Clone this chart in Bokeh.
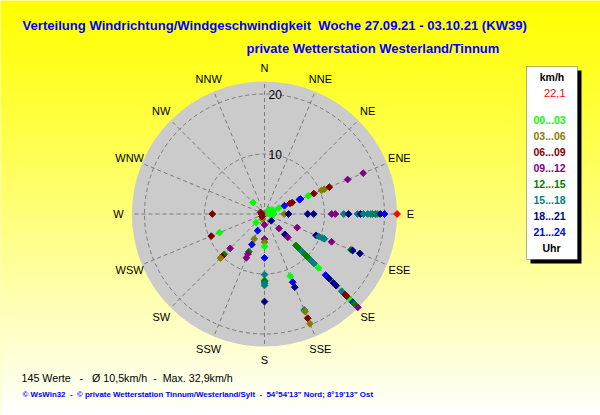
import numpy as np
from bokeh.plotting import figure
from bokeh.models import Range1d, Label, BoxAnnotation, ColumnDataSource
from bokeh.embed import file_html
from bokeh.resources import INLINE

# ---------------- data ----------------
directions16 = ["N", "NNE", "NE", "ENE", "E", "ESE", "SE", "SSE",
                "S", "SSW", "SW", "WSW", "W", "WNW", "NW", "NNW"]
hour_bins = ["00...03", "03...06", "06...09", "09...12",
             "12...15", "15...18", "18...21", "21...24"]
bin_colors = ["#00FF00", "#808000", "#800000", "#800080",
              "#008000", "#008080", "#000080", "#0000FF"]
scale_max = 22.1          # km/h, outer circle
scale_max_label = "22,1"
max_dir = "E"
ring_values = [10, 20]

obs_dir = (
    ["E"] * 21 + ["ENE"] * 15 + ["NE"] + ["ESE"] * 9 + ["SE"] * 23 + ["SSE"] * 7
    + ["S"] * 11 + ["SSW"] * 7 + ["SW"] * 6 + ["WSW"] * 2 + ["W"] * 2 + ["WNW"] + ["NW"]
)
obs_speed = [
    # E
    0.8, 1.2, 1.5, 3.3, 4.0, 7.2, 8.2, 11.2, 11.8, 13.2, 14.0, 15.5, 16.0, 16.5, 17.2,
    17.7, 18.0, 18.5, 18.8, 19.3, 20.0,
    # ENE
    1.2, 1.6, 2.6, 3.6, 4.6, 5.0, 6.3, 6.5, 7.9, 8.9, 10.3, 10.8, 11.7, 15.0, 17.8,
    # NE
    1.0,
    # ESE
    5.9, 9.3, 9.8, 10.4, 10.8, 12.1, 15.6, 15.9, 17.2,
    # SE
    1.6, 3.4, 4.8, 5.5, 7.4, 7.9, 8.8, 9.6, 10.2, 10.9, 11.7, 12.7, 14.4, 15.2, 16.2,
    16.9, 18.2, 19.0, 19.4, 20.3, 20.8, 21.1, 22.0,
    # SSE
    11.2, 12.3, 13.2, 17.3, 17.6, 18.8, 19.8,
    # S
    1.8, 4.2, 4.7, 5.4, 7.3, 10.1, 11.1, 11.3, 11.6, 11.9, 14.6,
    # SSW
    0.9, 3.0, 4.5, 5.5, 6.8, 7.2, 7.9,
    # SW
    0.6, 2.0, 8.1, 9.5, 10.0, 10.4,
    # WSW
    8.1, 9.6,
    # W
    0.5, 8.7,
    # WNW
    0.7,
    # NW
    2.7,
]
obs_bin = [
    # E
    0, 0, 0, 1, 6, 6, 6, 3, 3, 5, 6, 5, 6, 5, 5, 5, 5, 4, 5, 6, 7,
    # ENE
    0, 0, 0, 7, 2, 2, 7, 7, 0, 2, 1, 1, 2, 3, 3,
    # NE
    0,
    # ESE
    3, 6, 5, 5, 5, 3, 4, 6, 6,
    # SE
    6, 3, 6, 3, 4, 4, 5, 4, 4, 5, 5, 0, 7, 6, 6, 6, 5, 2, 2, 0, 7, 4, 3,
    # SSE
    0, 7, 6, 5, 1, 2, 1,
    # S
    3, 3, 1, 0, 7, 5, 4, 4, 5, 5, 6,
    # SSW
    1, 7, 1, 7, 4, 3, 3,
    # SW
    2, 0, 3, 4, 2, 1,
    # WSW
    0, 2,
    # W
    2, 2,
    # WNW
    2,
    # NW
    0,
]

NB = "\u00a0"
texts_title = "Verteilung Windrichtung/Windgeschwindigkeit" + NB + " Woche 27.09.21 - 03.10.21 (KW39)"
texts_sub = "private Wetterstation Westerland/Tinnum"
texts_stats = "145 Werte" + NB * 2 + " -" + NB * 2 + " Ø 10,5km/h" + NB + " -" + NB + " Max. 32,9km/h"
texts_copy = ("© WsWin32" + NB + " -" + NB + " © private Wetterstation Tinnum/Westerland/Sylt"
              + NB + " -" + NB + " 54°54'13\" Nord; 8°19'13\" Ost")

# ---------------- layout helpers (page pixels -> data units) ----------------
W, H = 600, 415
OFF = 0                        # figure sits at the page origin
PX = 6.0                       # pixels per km/h
CX, CY = 264.0, 213.5          # centre of the rose in page pixels


def fx(X):
    return (X - OFF - CX) / PX


def fy(Y):
    return (CY - (Y - OFF)) / PX


FONT = "Liberation Sans"

p = figure(width=W, height=H, x_range=Range1d(fx(OFF), fx(OFF + W)),
           y_range=Range1d(fy(OFF + H), fy(OFF)), output_backend="svg",
           toolbar_location=None, x_axis_location=None, y_axis_location=None,
           min_border=0)
p.grid.visible = False
p.outline_line_color = None
p.border_fill_color = "#FFFF80"
p.background_fill_color = "#FFFF80"

# background gradient (yellow -> pale cream)
rows = H
img = np.zeros((rows, 1, 4), dtype=np.uint8)
for i in range(rows):
    Yref = OFF + (rows - 1 - i) + 0.5
    t = min(max(Yref / 415.0, 0.0), 1.0)
    img[i, 0, 0] = 255
    img[i, 0, 1] = 255
    img[i, 0, 2] = int(round(255 * t ** 1.1))
    img[i, 0, 3] = 255
img32 = img.view(dtype=np.uint32).reshape((rows, 1))
p.image_rgba(image=[img32], x=fx(OFF), y=fy(OFF + H), dw=W / PX, dh=H / PX)

# polar disk
p.circle(x=[0], y=[0], radius=scale_max, fill_color="#CBCBCB", line_color=None)

# rings and spokes
p.circle(x=[0] * len(ring_values), y=[0] * len(ring_values), radius=ring_values,
         fill_color=None, line_color="#7A7A7A", line_dash="4 3", line_width=1)
ang = np.deg2rad(np.arange(16) * 22.5)
p.segment(x0=np.zeros(16), y0=np.zeros(16), x1=scale_max * np.sin(ang),
          y1=scale_max * np.cos(ang), line_color="#7A7A7A", line_dash="4 3", line_width=1)

# data points
dir_deg = {d: i * 22.5 for i, d in enumerate(directions16)}
th = np.deg2rad([dir_deg[d] for d in obs_dir])
sp = np.array(obs_speed)
src = ColumnDataSource(dict(x=sp * np.sin(th), y=sp * np.cos(th),
                            c=[bin_colors[b] for b in obs_bin]))
p.scatter(x="x", y="y", source=src, marker="square", angle=np.pi / 4, size=4.8,
          fill_color="c", line_color="c", line_width=1)
mth = np.deg2rad(dir_deg[max_dir])
p.scatter(x=[scale_max * np.sin(mth)], y=[scale_max * np.cos(mth)], marker="square",
          angle=np.pi / 4, size=4.8, fill_color="#FF0000", line_color="#FF0000")

# ring labels
for rv in ring_values:
    p.add_layout(Label(x=4 / PX, y=rv, text=str(rv), text_font=FONT,
                       text_font_size="12px", text_color="black",
                       text_baseline="middle", text_align="left"))

# direction labels
RL = 146 / PX
for i, d in enumerate(directions16):
    a = np.deg2rad(i * 22.5)
    p.add_layout(Label(x=RL * np.sin(a), y=RL * np.cos(a), text=d, text_font=FONT,
                       text_font_size="11px", text_color="black",
                       text_baseline="middle", text_align="center"))

# titles
p.add_layout(Label(x=fx(22), y=fy(25), text=texts_title, text_font=FONT,
                   text_font_size="13.1px", text_font_style="bold", text_color="#0000FF",
                   text_baseline="middle", text_align="left"))
p.add_layout(Label(x=fx(246), y=fy(48), text=texts_sub, text_font=FONT,
                   text_font_size="13px", text_font_style="bold", text_color="#0000FF",
                   text_baseline="middle", text_align="left"))

# bottom texts
p.add_layout(Label(x=fx(21), y=fy(377), text=texts_stats, text_font=FONT,
                   text_font_size="10.7px", text_color="black",
                   text_baseline="middle", text_align="left"))
p.add_layout(Label(x=fx(22), y=fy(394), text=texts_copy, text_font=FONT,
                   text_font_size="7.9px", text_font_style="bold", text_color="#0000FF",
                   text_baseline="middle", text_align="left"))

# legend box
p.add_layout(BoxAnnotation(left=fx(530), right=fx(581), top=fy(70), bottom=fy(263),
                           fill_color="black", fill_alpha=1, line_color=None))
p.add_layout(BoxAnnotation(left=fx(526), right=fx(577), top=fy(66), bottom=fy(259),
                           fill_color="white", fill_alpha=1, line_color="black",
                           line_width=1))
p.add_layout(Label(x=fx(551.5), y=fy(76), text="km/h", text_font=FONT,
                   text_font_size="10.5px", text_font_style="bold", text_color="black",
                   text_baseline="middle", text_align="center"))
p.add_layout(Label(x=fx(565), y=fy(92), text=scale_max_label,
                   text_font=FONT, text_font_size="11px", text_color="#FF0000",
                   text_baseline="middle", text_align="right"))
for k, (lab, col) in enumerate(zip(hour_bins, bin_colors)):
    p.add_layout(Label(x=fx(533), y=fy(119 + 16 * k), text=lab, text_font=FONT,
                       text_font_size="10.5px", text_font_style="bold", text_color=col,
                       text_baseline="middle", text_align="left"))
p.add_layout(Label(x=fx(551), y=fy(247), text="Uhr", text_font=FONT,
                   text_font_size="10.5px", text_font_style="bold", text_color="black",
                   text_baseline="middle", text_align="center"))

open("out.html", "w").write(file_html(p, INLINE))
